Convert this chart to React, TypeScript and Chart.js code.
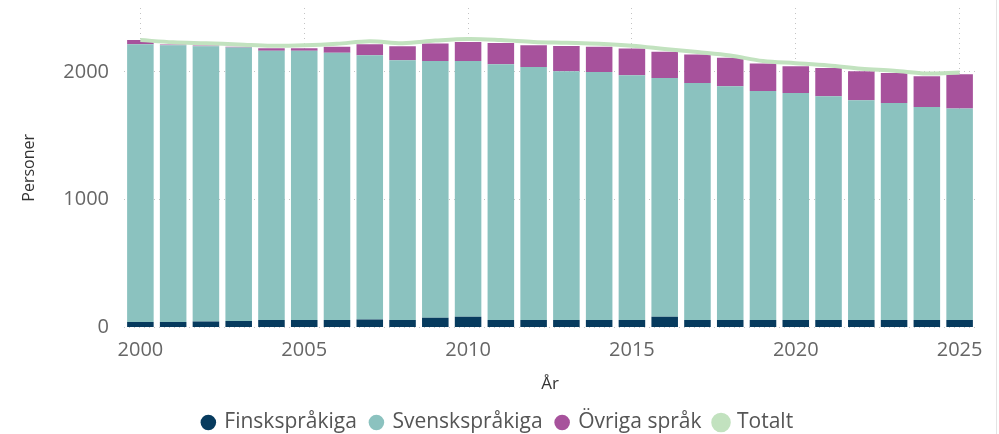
import { useEffect, useRef } from 'react';
import { Chart, registerables } from 'chart.js';

Chart.register(...registerables);

const years = ['2000', '2001', '2002', '2003', '2004', '2005', '2006', '2007', '2008', '2009', '2010', '2011', '2012', '2013', '2014', '2015', '2016', '2017', '2018', '2019', '2020', '2021', '2022', '2023', '2024', '2025'];
const finnish = [44, 44, 47, 52, 60, 60, 60, 63, 60, 78, 84, 60, 60, 60, 60, 60, 84, 60, 60, 60, 60, 60, 60, 60, 60, 60];
const swedish = [2173, 2165, 2154, 2139, 2105, 2105, 2089, 2068, 2032, 2008, 2002, 2000, 1979, 1945, 1940, 1914, 1869, 1854, 1828, 1791, 1775, 1749, 1718, 1697, 1665, 1653];
const other = [32, 6, 6, 5, 21, 21, 47, 86, 109, 137, 149, 167, 170, 197, 196, 209, 204, 222, 222, 215, 210, 222, 227, 235, 241, 269];
const total = [2249, 2232, 2224, 2215, 2204, 2208, 2220, 2240, 2225, 2245, 2258, 2250, 2235, 2228, 2220, 2205, 2180, 2155, 2128, 2085, 2068, 2050, 2025, 2010, 1988, 1995];
const yTicks = [0, 1000, 2000];

const FONT = '"Open Sans", "DejaVu Sans", sans-serif';

export default function App() {
  const ref = useRef<HTMLCanvasElement | null>(null);

  useEffect(() => {
    if (!ref.current) return;
    const barOpts = { stack: 'bars', order: 1, barPercentage: 0.81, categoryPercentage: 1 };
    const chart = new Chart(ref.current, {
      type: 'bar',
      data: {
        labels: years,
        datasets: [
          { type: 'bar', label: 'Finskspråkiga', data: finnish, backgroundColor: '#073b5e', ...barOpts },
          { type: 'bar', label: 'Svenskspråkiga', data: swedish, backgroundColor: '#8bc2bf', ...barOpts },
          { type: 'bar', label: 'Övriga språk', data: other, backgroundColor: '#a7529c', ...barOpts },
          { type: 'line', label: 'Totalt', data: total, borderColor: '#c2e2bf', backgroundColor: '#c2e2bf', borderWidth: 4, pointRadius: 0, tension: 0.35, stack: 'total', order: 0 } as any,
        ] as any,
      },
      options: {
        animation: false,
        responsive: false,
        maintainAspectRatio: false,
        layout: { padding: { left: 20, right: 20, top: 8, bottom: -9 } },
        plugins: {
          legend: {
            position: 'bottom',
            labels: {
              usePointStyle: true,
              pointStyle: 'circle',
              boxHeight: 11,
              boxWidth: 11,
              padding: 14,
              color: '#555',
              font: { family: FONT, size: 21 },
              sort: (a: any, b: any) => a.datasetIndex - b.datasetIndex,
            },
          },
          tooltip: { enabled: false },
        },
        scales: {
          x: {
            stacked: true,
            offset: true,
            grid: { offset: false, color: '#c4c4c4', drawTicks: false, lineWidth: 1 },
            border: { display: false, dash: [1, 4] },
            ticks: { color: '#666', padding: 11, font: { family: FONT, size: 20 }, autoSkip: false, maxRotation: 0 },
            afterBuildTicks: (scale: any) => {
              scale.ticks = scale.ticks.filter((t: any) => Number(years[t.value]) % 5 === 0);
            },
            afterFit: (scale: any) => {
              scale.paddingLeft = 0;
              scale.paddingRight = 0;
            },
            title: { display: true, text: 'År', color: '#333', font: { family: FONT, size: 17 }, padding: { top: 0, bottom: 4 } },
          },
          y: {
            stacked: true,
            min: 0,
            max: 2500,
            grid: { color: '#c4c4c4', drawTicks: false, lineWidth: 1 },
            border: { display: false, dash: [1, 4] },
            ticks: { color: '#666', padding: 15, font: { family: FONT, size: 20 }, callback: (v: any) => String(v) },
            afterBuildTicks: (scale: any) => {
              scale.ticks = yTicks.map((v) => ({ value: v }));
            },
            afterFit: (scale: any) => {
              scale.width = 104;
              scale.paddingTop = 0;
              scale.paddingBottom = 0;
            },
            title: { display: true, text: 'Personer', color: '#333', font: { family: FONT, size: 16 }, padding: 0 },
          },
        },
      },
    });
    return () => chart.destroy();
  }, []);

  return (
    <div style={{ position: 'fixed', left: 0, top: 0, width: 999, height: 434, background: '#fff' }}>
      <canvas ref={ref} width={996} height={434} style={{ display: 'block', width: 996, height: 434 }} />
      <div style={{ position: 'absolute', left: 996, top: 0, width: 1, height: 434, background: '#e4e4e4' }} />
    </div>
  );
}
